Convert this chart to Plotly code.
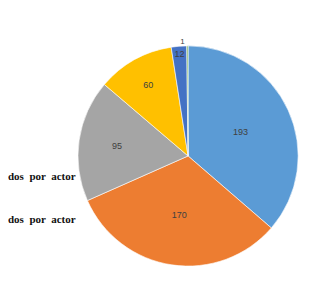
import plotly.graph_objects as go

categories = ["A", "B", "C", "D", "E", "F"]
values = [193, 170, 95, 60, 12, 1]
colors = ["#5B9BD5", "#ED7D31", "#A5A5A5", "#FFC000", "#4472C4", "#70AD47"]
side_texts = ["dos  por  actor", "dos  por  actor"]

fig = go.Figure()
fig.add_trace(go.Pie(
    labels=categories,
    values=values,
    sort=False,
    direction="clockwise",
    rotation=0,
    marker=dict(colors=colors, line=dict(color="#FFFFFF", width=0.6)),
    textinfo="value",
    textposition=["inside", "inside", "inside", "inside", "inside", "outside"],
    insidetextorientation="horizontal",
    textfont=dict(family="Liberation Sans Narrow, Liberation Sans", size=9, color="#404040"),
    outsidetextfont=dict(family="Liberation Sans Narrow, Liberation Sans", size=8, color="#404040"),
    showlegend=False,
    hoverinfo="label+value",
    domain=dict(x=[0.225, 0.933], y=[0.107, 0.869]),
))

for i, t in enumerate(side_texts):
    fig.add_annotation(
        text="<b>" + t + "</b>", x=0.226, y=[0.419, 0.27][i], xref="paper", yref="paper",
        xanchor="right", yanchor="middle", showarrow=False,
        font=dict(family="Liberation Serif", size=11, color="#111111"),
    )

fig.update_layout(
    width=311, height=289,
    margin=dict(l=0, r=0, t=0, b=0),
    paper_bgcolor="#FFFFFF",
    plot_bgcolor="#FFFFFF",
)
fig.write_html("out.html")
